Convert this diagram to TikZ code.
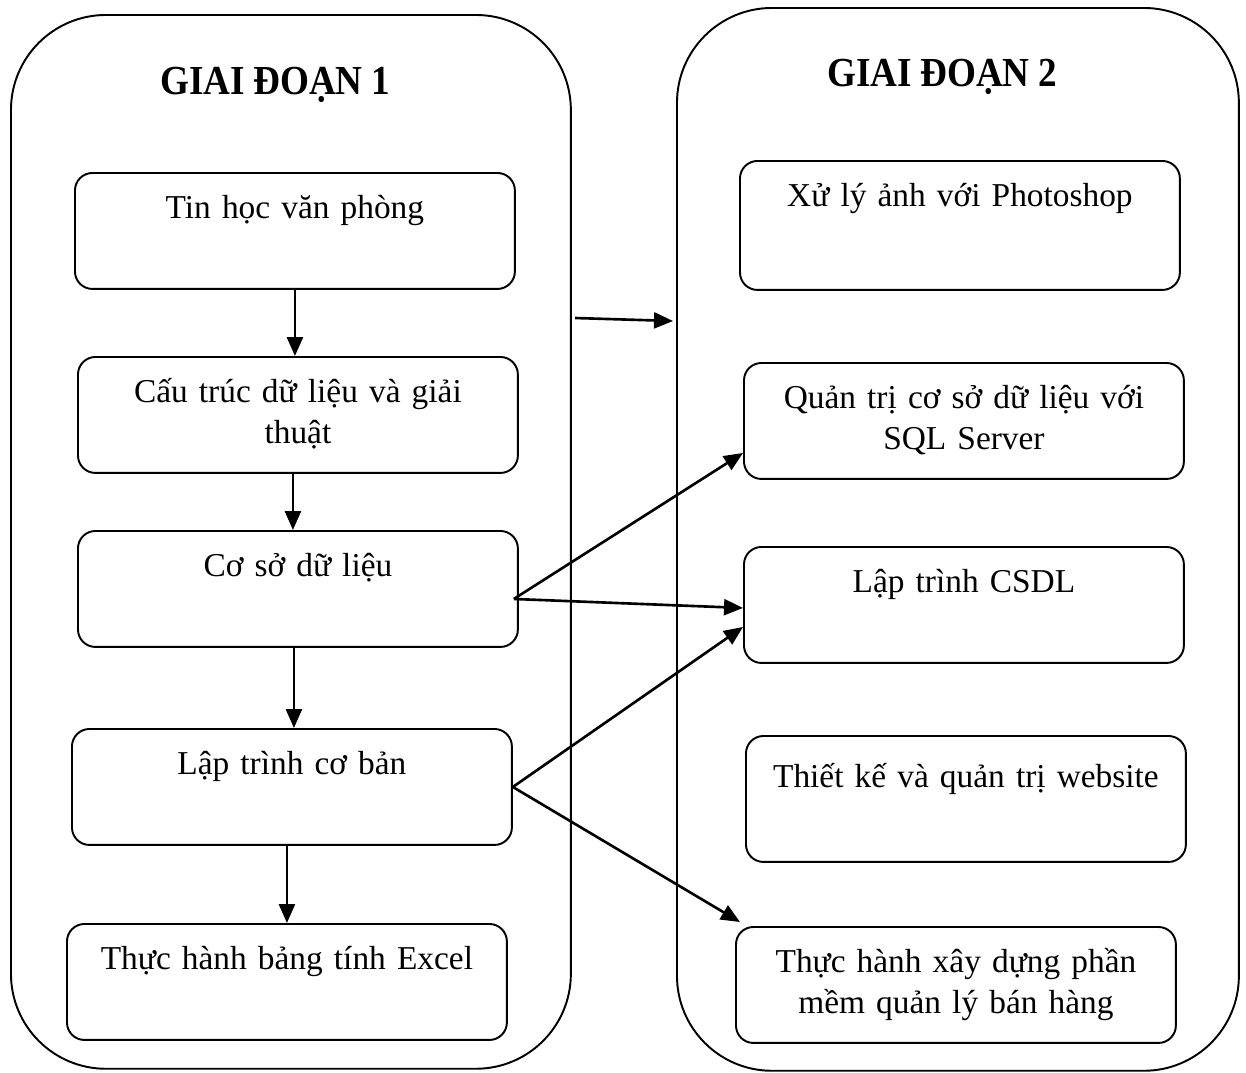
\documentclass[tikz,border=0pt]{standalone}
\usepackage{fontspec}
\setmainfont{Liberation Serif}[WordSpace=0.9]
\usetikzlibrary{arrows.meta,positioning}
\newcommand{\boxfont}{\fontsize{19}{22.8}\selectfont}
\newcommand{\phasefont}{\fontsize{23.5}{28}\selectfont\bfseries}
\tikzstyle{phase}=[draw, line width=1.1pt, rounded corners=1.9cm, anchor=north west, inner sep=0pt]
\tikzstyle{stage}=[draw, line width=1.1pt, rounded corners=0.35cm, anchor=north west,
  inner xsep=0.2cm, inner ysep=0pt, text width=8.4cm, align=center,
  text height=0.92cm, text depth=1.4cm, font=\boxfont]
\tikzstyle{title}=[anchor=base, font=\phasefont]

\begin{document}
\begin{tikzpicture}[x=0.02cm, y=-0.02cm, line width=1.5pt,
  >={Triangle[length=0.38cm,width=0.32cm]}]
  \useasboundingbox (0,0) rectangle (1246,1072);

  \node[phase, minimum width=11.2cm, minimum height=21.08cm] (p1) at (10,14) {};
  \node[phase, minimum width=11.24cm, minimum height=21.26cm] (p2) at (676,7) {};

  \node[title] (g1) at (275,94) {\scalebox{0.9}[1]{GIAI ĐOẠN 1}};
  \node[title] (g2) at (942,86) {\scalebox{0.9}[1]{GIAI ĐOẠN 2}};

  % giai doan 1
  \node[stage] (t1) at (74,172) {Tin học văn phòng};
  \node[stage] (t2) at (77,356) {Cấu trúc dữ liệu và giải\\thuật};
  \node[stage] (t3) at (77,530) {Cơ sở dữ liệu};
  \node[stage] (t4) at (71,728) {Lập trình cơ bản};
  \node[stage] (t5) at (66,923) {Thực hành bảng tính Excel};

  \draw[->] (t1.south) -- (t1.south |- t2.north);
  \draw[->] ([xshift=-0.1cm]t2.south) -- ([xshift=-0.1cm]t2.south |- t3.north);
  \draw[->] ([xshift=-0.08cm]t3.south) -- ([xshift=-0.08cm]t3.south |- t4.north);
  \draw[->] ([xshift=-0.1cm]t4.south) -- ([xshift=-0.1cm]t4.south |- t5.north);

  % giai doan 2
  \node[stage, text depth=1.66cm] (q1) at (739,160) {Xử lý ảnh với Photoshop};
  \node[stage] (q2) at (743,362) {Quản trị cơ sở dữ liệu với\\SQL Server};
  \node[stage] (q3) at (743,546) {Lập trình CSDL};
  \node[stage, text height=1.04cm, text depth=1.48cm] (q4) at (745,735) {Thiết kế và quản trị website};
  \node[stage] (q5) at (735,926) {Thực hành xây dựng phần\\mềm quản lý bán hàng};

  \coordinate (m1) at (575,318);
  \coordinate (m2) at (673,321);
  \draw[->] (m1) -- (m2);

  \coordinate (s3) at ([shift={(-5,10)}]t3.east);
  \draw[->] (s3) -- ([yshift=-0.64cm]q2.west);
  \draw[->] (s3) -- ([yshift=-0.06cm]q3.west);
  \draw[->] (t4.east) -- ([yshift=-0.44cm]q3.west);
  \draw[->] (t4.east) -- ([shift={(5,-4)}]q5.north west);
\end{tikzpicture}
\end{document}
